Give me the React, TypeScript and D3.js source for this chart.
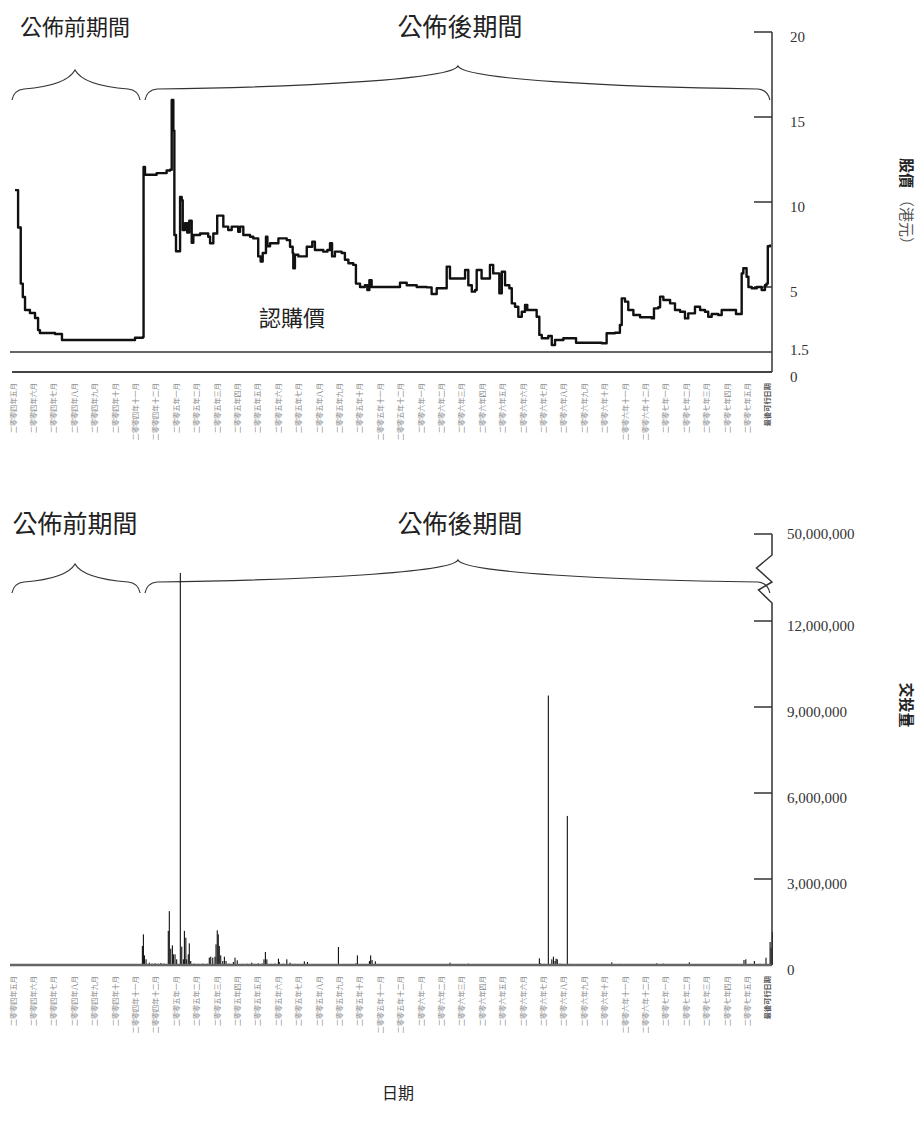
import React from 'react';
import * as d3 from 'd3';

// ---------- data ----------
const monthLabels: string[] = [
  '二零零四年五月', '二零零四年六月', '二零零四年七月', '二零零四年八月', '二零零四年九月', '二零零四年十月', '二零零四年十一月', '二零零四年十二月',
  '二零零五年一月', '二零零五年二月', '二零零五年三月', '二零零五年四月', '二零零五年五月', '二零零五年六月', '二零零五年七月', '二零零五年八月', '二零零五年九月', '二零零五年十月', '二零零五年十一月', '二零零五年十二月',
  '二零零六年一月', '二零零六年二月', '二零零六年三月', '二零零六年四月', '二零零六年五月', '二零零六年六月', '二零零六年七月', '二零零六年八月', '二零零六年九月', '二零零六年十月', '二零零六年十一月', '二零零六年十二月',
  '二零零七年一月', '二零零七年二月', '二零零七年三月', '二零零七年四月', '二零零七年五月',
  '最後可行日期',
];

const priceTicks = [20, 15, 10, 5, 1.5, 0];
const priceTickLabels = ['20', '15', '10', '5', '1.5', '0'];
const subscriptionPrice = 1.5;

const volumeTicks = [50000000, 12000000, 9000000, 6000000, 3000000, 0];
const volumeTickLabels = ['50,000,000', '12,000,000', '9,000,000', '6,000,000', '3,000,000', '0'];

// [month index (0 = May 2004), price HK$]
const priceData: [number, number][] = [
  [0.10, 10.7], [0.25, 8.5], [0.38, 5.2], [0.48, 4.46], [0.59, 3.76], [0.83, 3.60], [1.08, 3.33], [1.23, 2.68], [1.32, 2.52],
  [2.06, 2.47], [2.40, 2.15], [5.83, 2.15], [5.98, 2.27], [6.37, 2.31], [6.40, 12.06], [6.47, 11.6], [7.04, 11.7], [7.53, 11.85],
  [7.70, 11.9], [7.78, 16.0], [7.86, 14.2], [7.91, 8.06], [7.99, 7.1], [8.19, 10.3], [8.27, 10.1], [8.32, 8.35], [8.43, 8.75],
  [8.54, 8.2], [8.64, 8.9], [8.76, 7.6], [8.84, 8.06], [9.17, 8.15], [9.57, 7.96], [9.66, 7.57], [9.82, 8.15], [10.01, 9.2],
  [10.23, 9.2], [10.31, 8.55], [10.55, 8.35], [10.72, 8.55], [10.93, 8.55], [11.04, 8.25], [11.13, 8.55], [11.29, 8.06],
  [11.62, 7.96], [11.78, 7.86], [12.02, 6.8], [12.14, 6.5], [12.24, 7.0], [12.40, 7.96], [12.47, 7.4], [12.60, 7.57],
  [12.84, 7.57], [13.01, 7.86], [13.42, 7.76], [13.58, 7.37], [13.71, 7.0], [13.74, 6.1], [13.82, 6.9], [13.99, 6.8],
  [14.23, 6.8], [14.40, 7.37], [14.56, 7.37], [14.67, 7.66], [14.80, 7.18], [15.21, 7.08], [15.41, 7.18], [15.54, 7.57],
  [15.64, 6.8], [15.78, 7.08], [16.11, 7.0], [16.27, 6.6], [16.44, 6.4], [16.68, 6.3], [16.81, 5.2], [17.01, 5.0], [17.25, 5.1],
  [17.37, 4.84], [17.47, 5.4], [17.58, 5.0], [18.81, 5.0], [18.97, 5.25], [19.30, 5.1], [19.79, 5.0], [20.28, 4.98],
  [20.52, 4.62], [20.77, 4.93], [21.09, 4.93], [21.26, 6.2], [21.42, 5.5], [22.07, 5.5], [22.16, 6.0], [22.32, 5.1],
  [22.49, 4.75], [22.65, 4.84], [22.73, 6.0], [22.97, 5.5], [23.30, 5.5], [23.38, 6.3], [23.54, 5.8], [23.71, 5.8],
  [23.84, 4.66], [23.96, 5.9], [24.12, 5.1], [24.33, 4.93], [24.45, 4.12], [24.61, 3.94], [24.77, 3.40], [24.94, 3.67],
  [25.10, 4.03], [25.21, 3.76], [25.51, 3.76], [25.67, 3.40], [25.80, 2.42], [25.92, 2.24], [26.24, 2.36], [26.41, 1.88],
  [26.57, 2.15], [26.98, 2.24], [27.55, 2.24], [27.60, 2.00], [28.86, 1.97], [29.10, 2.51], [29.51, 2.54], [29.75, 2.95],
  [29.84, 4.39], [30.00, 4.21], [30.16, 3.76], [30.41, 3.49], [30.74, 3.37], [31.31, 3.31], [31.42, 3.85], [31.63, 3.91],
  [31.72, 4.48], [31.88, 4.30], [32.21, 4.12], [32.45, 3.76], [32.70, 3.67], [32.94, 3.31], [33.10, 3.58], [33.43, 3.94],
  [33.68, 3.76], [33.92, 3.67], [34.08, 3.40], [34.25, 3.55], [34.57, 3.49], [34.74, 3.76], [35.31, 3.76], [35.44, 3.55],
  [35.55, 3.55], [35.72, 5.8], [35.80, 6.1], [35.96, 5.6], [36.05, 5.0], [36.21, 4.93], [36.46, 5.0], [36.70, 4.84],
  [36.86, 5.1], [36.94, 5.2], [37.00, 7.4], [37.11, 7.5],
];

// [month index, daily volume]
const volumeData: [number, number][] = [
  [1.20, 15000], [2.20, 15000], [6.34, 663000], [6.39, 1070000], [6.44, 337000], [6.52, 200000], [6.68, 81000], [6.81, 50000],
  [6.96, 60000], [7.11, 45000], [7.25, 70000], [7.40, 50000], [7.61, 1190000], [7.66, 1880000], [7.73, 570000], [7.81, 686000],
  [7.86, 372000], [7.94, 372000], [8.02, 198000], [8.20, 33000000], [8.27, 640000], [8.35, 198000], [8.40, 1190000],
  [8.47, 953000], [8.51, 198000], [8.59, 372000], [8.64, 756000], [8.71, 140000], [8.87, 50000], [9.07, 40000], [9.31, 50000],
  [9.51, 45000], [9.62, 256000], [9.69, 290000], [9.79, 256000], [9.90, 290000], [9.95, 721000], [10.01, 1210000],
  [10.06, 1070000], [10.11, 663000], [10.18, 337000], [10.28, 140000], [10.36, 290000], [10.44, 140000], [10.59, 50000],
  [10.80, 105000], [10.88, 256000], [10.99, 163000], [11.23, 40000], [11.47, 45000], [11.70, 81000], [11.86, 40000],
  [12.02, 58000], [12.21, 50000], [12.30, 198000], [12.37, 453000], [12.44, 198000], [12.65, 40000], [12.84, 50000],
  [13.01, 221000], [13.05, 105000], [13.24, 45000], [13.42, 198000], [13.58, 81000], [13.82, 40000], [14.07, 35000],
  [14.28, 128000], [14.43, 105000], [14.66, 35000], [15.05, 30000], [15.54, 30000], [15.95, 628000], [16.27, 30000],
  [16.52, 35000], [16.81, 58000], [16.88, 337000], [17.11, 35000], [17.47, 140000], [17.53, 337000], [17.60, 174000],
  [17.76, 128000], [18.24, 30000], [18.97, 30000], [19.71, 25000], [20.44, 30000], [20.93, 25000], [21.42, 81000],
  [21.81, 30000], [22.32, 47000], [22.89, 25000], [23.63, 30000], [24.36, 25000], [25.10, 30000], [25.80, 233000],
  [25.86, 58000], [26.03, 40000], [26.24, 9400000], [26.41, 198000], [26.49, 290000], [26.57, 140000], [26.62, 221000],
  [26.68, 198000], [26.81, 50000], [26.96, 40000], [27.17, 5200000], [27.30, 40000], [27.79, 30000], [28.53, 25000],
  [29.35, 93000], [29.75, 40000], [30.25, 30000], [30.98, 35000], [31.55, 58000], [31.88, 47000], [32.45, 30000],
  [33.15, 93000], [33.68, 30000], [34.41, 30000], [35.15, 35000], [35.83, 174000], [35.92, 198000], [36.13, 40000],
  [36.34, 140000], [36.62, 40000], [36.91, 256000], [37.11, 802000], [37.16, 605000], [37.22, 1150000],
];

// periods (month index): start, end, brace peak
const periodNames = ['公佈前期間', '公佈後期間'];
const periodStart = [-0.05, 6.47];
const periodEnd = [6.23, 37.1];
const periodPeak = [3.04, 21.81];

// ---------- layout ----------
const W = 921;
const H = 1131;
const AXIS_X = 772;
const SERIF = "'Liberation Serif', 'DejaVu Serif', serif";
const CJK = "'Noto Sans CJK TC', 'Noto Sans CJK SC', sans-serif";

const x = d3.scaleLinear().domain([0, monthLabels.length - 1]).range([13, 767.8]);
const yPrice = d3.scaleLinear().domain([0, 1.5, 5, 20]).range([372, 352, 287, 32]);
const yVol = d3.scaleLinear().domain([0, 12000000, 50000000]).range([965, 621, 534]);

function bracePath(x1: number, x2: number, xm: number, yb: number, ya: number, yp: number) {
  const r = 12;
  const lx = x1 + r;
  const rx = x2 - r;
  return [
    `M${x1},${yb}`,
    `Q${x1 + 2},${ya} ${lx},${ya - 1}`,
    `C${lx + (xm - lx) * 0.5},${ya - 3} ${xm - 6},${ya - (ya - yp) * 0.45} ${xm},${yp}`,
    `C${xm + 6},${ya - (ya - yp) * 0.45} ${rx - (rx - xm) * 0.5},${ya - 3} ${rx},${ya - 1}`,
    `Q${x2 - 2},${ya} ${x2},${yb}`,
  ].join(' ');
}

function Braces({ yb, ya, yp, titleY, sizes }: { yb: number; ya: number; yp: number; titleY: number; sizes: number[] }) {
  return (
    <g>
      {periodNames.map((name, i) => {
        const xs = x(periodStart[i]);
        const xe = x(periodEnd[i]);
        const xm = x(periodPeak[i]);
        const peakY = i === 0 ? yp + 4 : yp;
        return (
          <g key={name}>
            <path d={bracePath(xs, xe, xm, yb, ya, peakY)} fill="none" stroke="#333" strokeWidth={1.2} />
            <text x={xm + (i === 0 ? 0 : 2)} y={titleY} textAnchor="middle" dominantBaseline="middle"
              fontFamily={CJK} fontSize={sizes[i]} fill="#222">{name}</text>
          </g>
        );
      })}
    </g>
  );
}

function MonthLabels({ top }: { top: number }) {
  return (
    <g>
      {monthLabels.map((lab, i) => (
        <text key={lab} transform={`translate(${x(i) + 2.5},${top}) rotate(-90)`} textAnchor="end"
          fontFamily={CJK} fontSize={7.2} fill={i === monthLabels.length - 1 ? '#555' : '#8a8a8a'}
          fontWeight={i === monthLabels.length - 1 ? 700 : 400}>{lab}</text>
      ))}
    </g>
  );
}

export default function App() {
  const line = d3.line<[number, number]>().x((d) => x(d[0])).y((d) => yPrice(d[1])).curve(d3.curveStepAfter);
  const vol0 = yVol(0);
  const y50 = yVol(50000000);

  const zig = [
    [AXIS_X, y50], [AXIS_X, y50 + 21], [AXIS_X - 15.5, y50 + 34], [AXIS_X, y50 + 48],
    [AXIS_X - 13.5, y50 + 56], [AXIS_X, y50 + 69], [AXIS_X, vol0],
  ];

  return (
    <svg width={W} height={H} style={{ position: 'absolute', left: 0, top: 0, background: '#fff' }}>
      <rect x={0} y={0} width={W} height={H} fill="#fff" />

      {/* ===== Top chart: price ===== */}
      <Braces yb={100} ya={90} yp={66} titleY={29} sizes={[22, 25]} />

      {/* subscription price line */}
      <line x1={10} x2={AXIS_X} y1={yPrice(subscriptionPrice)} y2={yPrice(subscriptionPrice)} stroke="#333" strokeWidth={1.6} />
      <text x={292} y={320} textAnchor="middle" dominantBaseline="middle" fontFamily={CJK} fontSize={22} fill="#222">認購價</text>

      {/* baseline */}
      <line x1={12} x2={AXIS_X} y1={yPrice(0)} y2={yPrice(0)} stroke="#444" strokeWidth={2} />
      {/* right axis */}
      <line x1={AXIS_X} x2={AXIS_X} y1={yPrice(20)} y2={yPrice(0)} stroke="#333" strokeWidth={1.5} />
      {priceTicks.filter((t) => t >= 5).map((t) => (
        <line key={t} x1={AXIS_X - 18} x2={AXIS_X} y1={yPrice(t)} y2={yPrice(t)} stroke="#333" strokeWidth={1.5} />
      ))}
      {priceTicks.map((t, i) => (
        <text key={t} x={790} y={yPrice(t) + (t === 1.5 ? 0 : 7)} dominantBaseline="middle" fontFamily={SERIF}
          fontSize={15} fill="#333">{priceTickLabels[i]}</text>
      ))}

      {/* price line */}
      <path d={line(priceData) || ''} fill="none" stroke="#111" strokeWidth={2.4} strokeLinejoin="round" />

      <MonthLabels top={383} />

      {/* axis title */}
      <text transform={`translate(905,205) rotate(90)`} textAnchor="middle" dominantBaseline="middle" fontFamily={CJK} fontSize={15} fill="#222">
        <tspan fontWeight={700}>股價</tspan><tspan dx={4} fill="#555">（港元）</tspan>
      </text>

      {/* ===== Bottom chart: volume ===== */}
      <Braces yb={593} ya={583} yp={560} titleY={526} sizes={[25, 25]} />

      {/* bars */}
      {volumeData.map((d, i) => (
        <rect key={i} x={x(d[0]) - 0.5} y={yVol(d[1])} width={1.1} height={vol0 - yVol(d[1])} fill="#111" />
      ))}

      {/* baseline */}
      <line x1={10} x2={AXIS_X} y1={vol0} y2={vol0} stroke="#666" strokeWidth={2.5} />

      {/* broken right axis */}
      <path d={d3.line()(zig as [number, number][]) || ''} fill="none" stroke="#333" strokeWidth={1.5} />
      {volumeTicks.filter((t) => t > 0).map((t) => (
        <line key={t} x1={AXIS_X - 18} x2={AXIS_X} y1={yVol(t)} y2={yVol(t)} stroke="#333" strokeWidth={1.5} />
      ))}
      {volumeTicks.map((t, i) => (
        <text key={t} x={787} y={yVol(t) + (t === 50000000 ? 2 : 7)} dominantBaseline="middle" fontFamily={SERIF}
          fontSize={15} fill="#333">{volumeTickLabels[i]}</text>
      ))}

      <MonthLabels top={976} />

      <text transform={`translate(905,705) rotate(90)`} textAnchor="middle" dominantBaseline="middle" fontFamily={CJK} fontSize={15} fontWeight={700} fill="#222">交投量</text>

      <text x={398} y={1095} textAnchor="middle" dominantBaseline="middle" fontFamily={CJK} fontSize={16} fill="#222">日期</text>
    </svg>
  );
}
